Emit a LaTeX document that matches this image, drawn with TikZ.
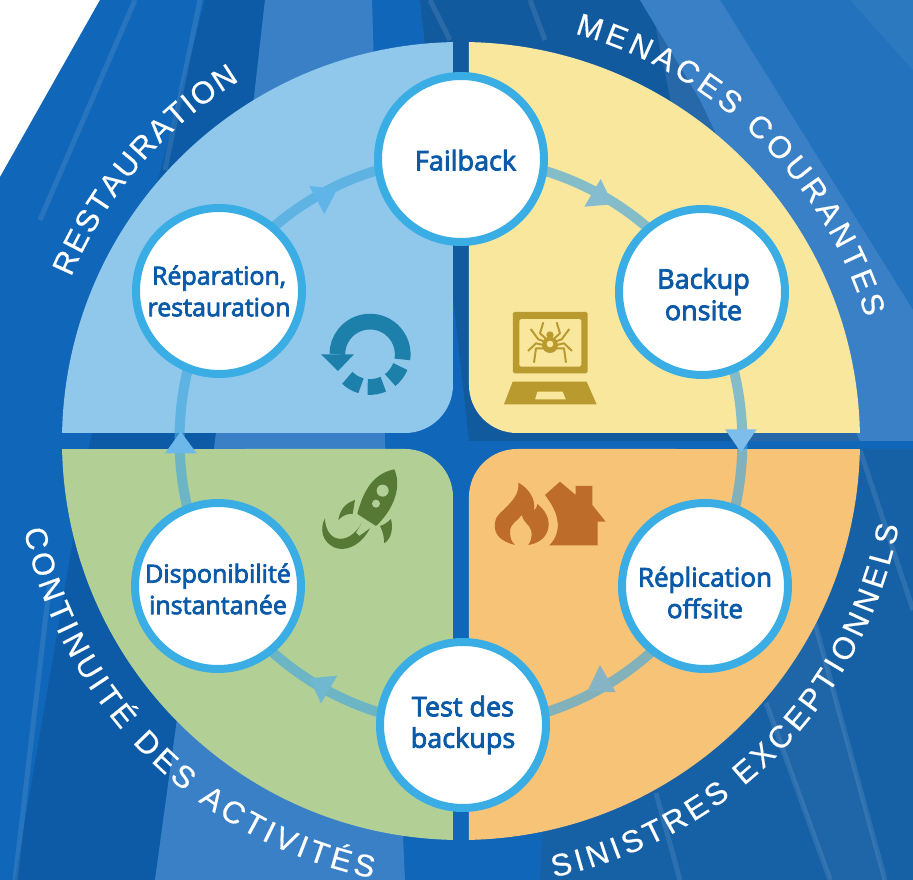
\documentclass[tikz,border=0pt]{standalone}
\usepackage{fontspec}
\setmainfont{Open Sans}
\newfontfamily\labfont[FakeBold=3]{Open Sans}
\newfontfamily\arcfont[FakeBold=0.5]{Liberation Sans}
\usetikzlibrary{decorations.text}
\pgfdeclarelayer{bg}\pgfdeclarelayer{conn}
\pgfsetlayers{bg,conn,main}
\definecolor{qblue}{HTML}{90C8EC}
\definecolor{qyellow}{HTML}{FAE79E}
\definecolor{qorange}{HTML}{F6C377}
\definecolor{qgreen}{HTML}{B2D096}
\definecolor{ring}{HTML}{3AAEE4}
\definecolor{flowcol}{HTML}{45A8DE}
\definecolor{ink}{HTML}{0B5AA8}
\definecolor{bgbase}{HTML}{1066B8}
\definecolor{bgdark}{HTML}{0D5BA6}
\definecolor{bgdeep}{HTML}{125A9E}
\definecolor{bglight}{HTML}{3A80C6}
\definecolor{bgmid}{HTML}{2272BD}
\definecolor{bglow}{HTML}{1660A6}
\definecolor{bgslate}{HTML}{2668A8}
\definecolor{icoyel}{HTML}{B89A2E}
\definecolor{icoora}{HTML}{BD6C2A}
\definecolor{icogrn}{HTML}{567A35}
\definecolor{icoblu}{HTML}{1C80AB}
\newcommand{\stagefont}[1]{\fontsize{#1}{31.5}\selectfont\labfont}
\tikzset{
  stage/.style={circle,draw=ring,line width=8pt,fill=white,minimum size=166pt,inner sep=0pt,outer sep=0pt,
    text=ink,align=center},
  flow/.style={draw=flowcol,line width=10pt,opacity=.65,bend left=30,looseness=.9},
  px/.style={shift={(-461,441)},y=-1pt},
  zoomA/.style={shift={(460,280)},x=.3333pt,y=-.3333pt},
  zoomB/.style={shift={(280,290)},x=.3333pt,y=-.3333pt},
  streak/.style={draw=white,opacity=.10,line width=5pt},
  arclabel/.style={decorate,decoration={text along path,text align={fit to path},text={#1}}},
}
\begin{document}
\begin{tikzpicture}[x=1pt,y=1pt]
\useasboundingbox (-461,-439) rectangle (452,441);
\begin{pgfonlayer}{bg}
\fill[white] (-461,-439) rectangle (452,441);
\begin{scope}[px]
  \fill[bgbase] (100,0)--(913,0)--(913,880)--(0,880)--(0,177)--cycle;
  % left dark band
  \fill[bgdark] (205,0)--(265,0)--(215,441)--(155,880)--(15,880)--(90,441)--cycle;
  % vertical light fan
  \fill[bglight] (265,0)--(372,0)--(385,441)--(405,880)--(155,880)--(215,441)--cycle;
  % top and right dark
  \fill[bgslate] (650,0)--(700,0)--(860,441)--(740,441)--cycle;
  \fill[bgdeep] (420,0)--(650,0)--(740,441)--(469,441)--cycle;
  \fill[bglow] (540,880)--(560,449)--(913,449)--(913,880)--cycle;
  \fill[bgmid] (700,0)--(913,0)--(913,441)--cycle;
  \fill[bglight] (640,0)--(720,0)--(913,310)--(913,441)--(860,441)--(700,100)--cycle;
  \fill[white,opacity=.05] (850,0)--(913,0)--(913,70)--cycle;
  \fill[white,opacity=.04] (766,703)--(815,623)--(885,880)--(830,880)--cycle;
  % streaks
  \draw[streak] (135,0)--(40,220);
  \draw[streak] (200,0)--(165,170);
  \draw[streak] (50,580)--(15,880);
  \draw[streak] (815,623)--(885,880);
  \draw[streak] (766,703)--(830,880);
  \draw[streak] (656,793)--(680,880);
  \draw[streak] (860,450)--(913,610);
  \draw[streak] (430,0)--(450,40);
  \draw[streak] (530,0)--(545,40);
\end{scope}
% quadrants
\fill[qyellow] (88.85:399) arc[start angle=88.85,end angle=1.15,radius=399] -- (56,8) arc[start angle=270,end angle=180,radius=48] -- (8,398.9) -- cycle;
\fill[qblue] (91.15:399) arc[start angle=91.15,end angle=178.85,radius=399] -- (-56,8) arc[start angle=270,end angle=360,radius=48] -- (-8,398.9) -- cycle;
\fill[qorange] (-88.85:399) arc[start angle=-88.85,end angle=-1.15,radius=399] -- (56,-8) arc[start angle=90,end angle=180,radius=48] -- (8,-398.9) -- cycle;
\fill[qgreen] (-91.15:399) arc[start angle=-91.15,end angle=-178.85,radius=399] -- (-56,-8) arc[start angle=90,end angle=0,radius=48] -- (-8,-398.9) -- cycle;
% curved labels
\path[arclabel={|\fontsize{31}{31}\selectfont\arcfont\color{white}|RESTAURATION}] (157.2:423) arc[start angle=157.2,end angle=121.6,radius=423];
\path[arclabel={|\fontsize{31}{31}\selectfont\arcfont\color{white}|MENACES COURANTES}] (74.4:423) arc[start angle=74.4,end angle=17,radius=423];
\path[arclabel={|\fontsize{31}{31}\selectfont\arcfont\color{white}|SINISTRES EXCEPTIONNELS}] (-78:446) arc[start angle=-78,end angle=-11,radius=446];
\path[arclabel={|\fontsize{31}{31}\selectfont\arcfont\color{white}|CONTINUITÉ DES ACTIVITÉS}] (191.5:446) arc[start angle=191.5,end angle=258.5,radius=446];
% icons: laptop and spider
\begin{scope}[px]\begin{scope}[zoomA]
  \fill[icoyel,even odd rule,rounded corners=1.5pt] (159,96) rectangle (383,280) (178,117) rectangle (364,260);
  \fill[icoyel,even odd rule] (158,305)--(380,305)--(410,373)--(132,373)--cycle (232,335)--(308,335)--(318,358)--(225,358)--cycle;
  \fill[icoyel] (270,195) circle[radius=24];
  \fill[icoyel] (270,165) circle[radius=11];
  \fill[qyellow] (270,192) circle[radius=10];
  \begin{scope}[icoyel,line width=2pt,line join=round]
    \draw (250,127)--(240,160)--(262,180);
    \draw (290,127)--(300,160)--(278,180);
    \draw (212,147)--(235,178)--(255,185);
    \draw (328,147)--(305,178)--(285,185);
    \draw (204,213)--(228,190)--(250,195);
    \draw (336,213)--(312,190)--(290,195);
    \draw (222,248)--(228,205)--(255,205);
    \draw (318,248)--(312,205)--(285,205);
  \end{scope}
  % flame
  \fill[icoora] (165,795) .. controls (125,785) and (100,765) .. (105,730)
     .. controls (108,700) and (130,695) .. (140,680)
     .. controls (160,660) and (178,640) .. (175,608)
     .. controls (205,625) and (228,655) .. (222,692)
     .. controls (228,685) and (232,680) .. (232,672)
     .. controls (255,690) and (270,715) .. (265,745)
     .. controls (258,775) and (235,790) .. (205,795)
     .. controls (218,775) and (218,755) .. (208,740)
     .. controls (198,728) and (190,722) .. (185,705)
     .. controls (175,722) and (150,730) .. (150,755)
     .. controls (150,775) and (155,785) .. (165,795) -- cycle;
  % house
  \fill[icoora] (255,645)--(300,605)--(347,645)--(347,618)--(397,618)--(397,675)--(437,725)--(413,725)--(413,796)--(268,796)
     .. controls (290,775) and (297,745) .. (292,720)
     .. controls (287,690) and (270,665) .. (255,645) -- cycle;
\end{scope}
% rocket
\begin{scope}[zoomB]
  \fill[icogrn] (343,538) .. controls (295,548) and (255,580) .. (232,672) -- (288,708)
     .. controls (330,670) and (370,600) .. (343,538) -- cycle;
  \fill[qgreen] (308,602) circle[radius=18];
  \fill[qgreen] (288,641) circle[radius=12];
  \fill[icogrn] (225,630) .. controls (195,640) and (180,660) .. (175,690)
     .. controls (190,675) and (205,670) .. (218,672) -- cycle;
  \fill[icogrn] (333,687) .. controls (320,700) and (310,705) .. (300,708)
     .. controls (310,725) and (312,745) .. (313,760)
     .. controls (335,745) and (340,715) .. (333,687) -- cycle;
  \fill[icogrn] (135,685) .. controls (118,715) and (125,760) .. (170,775)
     .. controls (210,785) and (250,755) .. (270,715)
     -- (238,738) -- (228,728) -- (245,700)
     .. controls (225,735) and (195,752) .. (170,745)
     .. controls (150,740) and (135,715) .. (135,685) -- cycle;
\end{scope}\end{scope}
% circular arrow
\begin{scope}[shift={(-91,86.7)},icoblu,line width=15.7pt]
  \draw (-9:32.7) arc[start angle=-9,end angle=180,radius=32.7];
  \draw (-22:32.7) arc[start angle=-22,end angle=-52,radius=32.7];
  \draw (-66:32.7) arc[start angle=-66,end angle=-94,radius=32.7];
  \draw (-106:32.7) arc[start angle=-106,end angle=-134,radius=32.7];
  \fill (-49,0)--(-16,0)--(-32,-16.7)--cycle;
\end{scope}
\end{pgfonlayer}
% stages
\node[stage,font=\stagefont{27}] (failback) at (0,282) {\rule{0pt}{23pt}\hspace*{9pt}Failback};
\node[stage,font=\stagefont{27}] (backup) at (241,149) {\rule{0pt}{25pt}\hspace*{3pt}Backup\\\hspace*{3pt}onsite};
\node[stage,font=\stagefont{26}] (repl) at (244,-145) {\rule{0pt}{33pt}Réplication\\offsite};
\node[stage,font=\stagefont{27}] (test) at (2,-284) {Test des\\backups};
\node[stage,font=\stagefont{25}] (dispo) at (-243,-145) {\rule{0pt}{25pt}Disponibilité\\instantanée};
\node[stage,font=\stagefont{25}] (repar) at (-242,150) {Réparation,\\restauration};
\begin{pgfonlayer}{conn}
\draw[flow] (failback.center) to (backup.center);
\draw[flow] (backup.center) to (repl.center);
\draw[flow] (repl.center) to (test.center);
\draw[flow] (test.center) to (dispo.center);
\draw[flow] (dispo.center) to (repar.center);
\draw[flow] (repar.center) to (failback.center);
\begin{scope}[px]
  \fill[fill={rgb,255:red,133;green,188;blue,207}] (600.7,179)--(584.3,206.7)--(612.7,204.3)--cycle;
  \fill[fill={rgb,255:red,125;green,189;blue,236}] (725,429.3)--(756.7,429.3)--(741,452.3)--cycle;
  \fill[fill={rgb,255:red,135;green,180;blue,196}] (600,665)--(587.7,690.7)--(615.7,692.3)--cycle;
  \fill[fill={rgb,255:red,111;green,184;blue,208}] (309.3,678.3)--(337.3,675.7)--(321,703.3)--cycle;
  \fill[fill={rgb,255:red,109;green,184;blue,234}] (165,453.3)--(196.7,453.3)--(180.7,431.7)--cycle;
  \fill[fill={rgb,255:red,95;green,180;blue,232}] (309.3,186)--(337.3,189)--(324.3,214)--cycle;
\end{scope}
\end{pgfonlayer}
\end{tikzpicture}
\end{document}
